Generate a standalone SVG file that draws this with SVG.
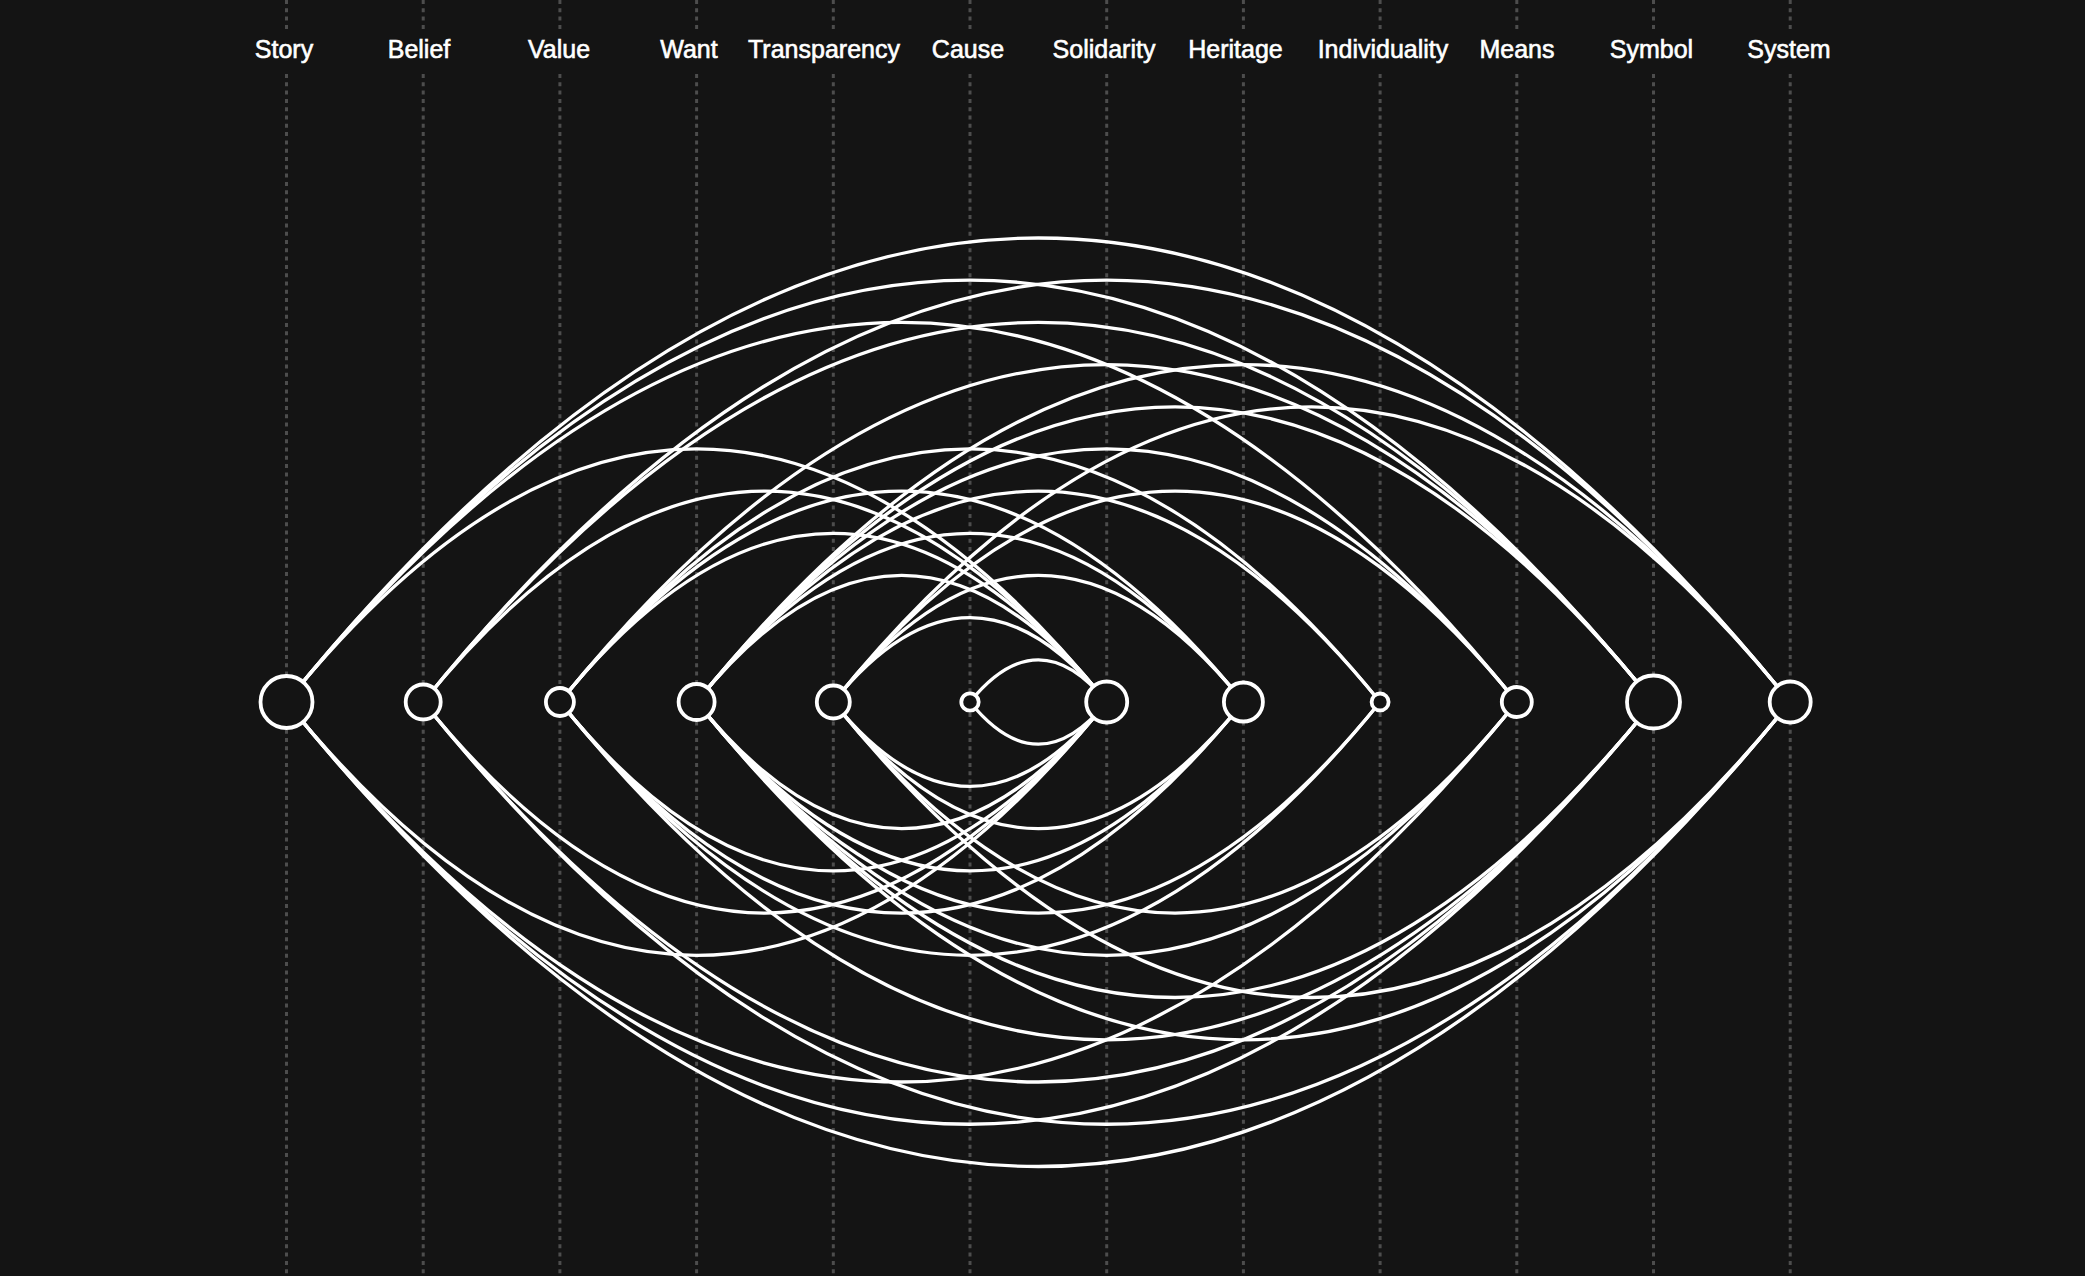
<svg xmlns="http://www.w3.org/2000/svg" width="2085" height="1276" viewBox="0 0 2085 1276">
<style>
.bg{fill:#141414}
.guide{stroke:#4d4d4d;stroke-width:3;stroke-dasharray:4 4.3;fill:none}
.arc{fill:none;stroke:#ffffff;stroke-width:3.3}
.node{fill:#141414;stroke:#ffffff;stroke-width:3.8}
.lbl{font-family:"Liberation Sans",Arial,sans-serif;font-size:25px;fill:#ffffff;stroke:#ffffff;stroke-width:0.6;text-anchor:middle}
</style>
<rect class="bg" x="0" y="0" width="2085" height="1276"/>
<g id="guides">
<path class="guide" d="M286.5 0V32M286.5 74V1276M423.2 0V32M423.2 74V1276M559.9 0V32M559.9 74V1276M696.6 0V32M696.6 74V1276M833.3 0V32M833.3 74V1276M970 0V32M970 74V1276M1106.7 0V32M1106.7 74V1276M1243.4 0V32M1243.4 74V1276M1380.1 0V32M1380.1 74V1276M1516.8 0V32M1516.8 74V1276M1653.5 0V32M1653.5 74V1276M1790.2 0V32M1790.2 74V1276"/>
</g>
<g id="connectors">
<path class="arc" d="M286.5 702Q1038.35 -226 1790.2 702"/>
<path class="arc" d="M286.5 702Q1038.35 1631 1790.2 702"/>
<path class="arc" d="M286.5 702Q970 -141.6 1653.5 702"/>
<path class="arc" d="M286.5 702Q970 1546.5 1653.5 702"/>
<path class="arc" d="M286.5 702Q901.65 -57.2 1516.8 702"/>
<path class="arc" d="M286.5 702Q901.65 1462 1516.8 702"/>
<path class="arc" d="M286.5 702Q696.6 195.9 1106.7 702"/>
<path class="arc" d="M286.5 702Q696.6 1208.6 1106.7 702"/>
<path class="arc" d="M423.2 702Q1106.7 -141.6 1790.2 702"/>
<path class="arc" d="M423.2 702Q1106.7 1546.5 1790.2 702"/>
<path class="arc" d="M423.2 702Q1038.35 -57.2 1653.5 702"/>
<path class="arc" d="M423.2 702Q1038.35 1462 1653.5 702"/>
<path class="arc" d="M423.2 702Q764.95 280.3 1106.7 702"/>
<path class="arc" d="M423.2 702Q764.95 1124.1 1106.7 702"/>
<path class="arc" d="M559.9 702Q1106.7 27.1 1653.5 702"/>
<path class="arc" d="M559.9 702Q1106.7 1377.6 1653.5 702"/>
<path class="arc" d="M559.9 702Q970 195.9 1380.1 702"/>
<path class="arc" d="M559.9 702Q970 1208.6 1380.1 702"/>
<path class="arc" d="M559.9 702Q901.65 280.3 1243.4 702"/>
<path class="arc" d="M559.9 702Q901.65 1124.1 1243.4 702"/>
<path class="arc" d="M559.9 702Q833.3 364.6 1106.7 702"/>
<path class="arc" d="M559.9 702Q833.3 1039.7 1106.7 702"/>
<path class="arc" d="M696.6 702Q1243.4 27.1 1790.2 702"/>
<path class="arc" d="M696.6 702Q1243.4 1377.6 1790.2 702"/>
<path class="arc" d="M696.6 702Q1175.05 111.6 1653.5 702"/>
<path class="arc" d="M696.6 702Q1175.05 1293 1653.5 702"/>
<path class="arc" d="M696.6 702Q1106.7 195.9 1516.8 702"/>
<path class="arc" d="M696.6 702Q1106.7 1208.6 1516.8 702"/>
<path class="arc" d="M696.6 702Q1038.35 280.3 1380.1 702"/>
<path class="arc" d="M696.6 702Q1038.35 1124.1 1380.1 702"/>
<path class="arc" d="M696.6 702Q970 364.6 1243.4 702"/>
<path class="arc" d="M696.6 702Q970 1039.7 1243.4 702"/>
<path class="arc" d="M696.6 702Q901.65 448.9 1106.7 702"/>
<path class="arc" d="M696.6 702Q901.65 955.3 1106.7 702"/>
<path class="arc" d="M833.3 702Q1311.75 111.6 1790.2 702"/>
<path class="arc" d="M833.3 702Q1311.75 1293 1790.2 702"/>
<path class="arc" d="M833.3 702Q1175.05 280.3 1516.8 702"/>
<path class="arc" d="M833.3 702Q1175.05 1124.1 1516.8 702"/>
<path class="arc" d="M833.3 702Q1038.35 448.9 1243.4 702"/>
<path class="arc" d="M833.3 702Q1038.35 955.3 1243.4 702"/>
<path class="arc" d="M833.3 702Q970 533.2 1106.7 702"/>
<path class="arc" d="M833.3 702Q970 870.8 1106.7 702"/>
<path class="arc" d="M970 702Q1038.35 617.6 1106.7 702"/>
<path class="arc" d="M970 702Q1038.35 786.4 1106.7 702"/>
</g>
<g id="node-story"><text class="lbl" x="284" y="58">Story</text><circle class="node" cx="286.5" cy="702" r="26"/></g>
<g id="node-belief"><text class="lbl" x="419" y="58">Belief</text><circle class="node" cx="423.2" cy="702" r="17.5"/></g>
<g id="node-value"><text class="lbl" x="559" y="58">Value</text><circle class="node" cx="559.9" cy="702" r="14"/></g>
<g id="node-want"><text class="lbl" x="689" y="58">Want</text><circle class="node" cx="696.6" cy="702" r="18"/></g>
<g id="node-transparency"><text class="lbl" x="824" y="58">Transparency</text><circle class="node" cx="833.3" cy="702" r="16.5"/></g>
<g id="node-cause"><text class="lbl" x="968" y="58">Cause</text><circle class="node" cx="970" cy="702" r="8.7"/></g>
<g id="node-solidarity"><text class="lbl" x="1104" y="58">Solidarity</text><circle class="node" cx="1106.7" cy="702" r="20.5"/></g>
<g id="node-heritage"><text class="lbl" x="1235.5" y="58">Heritage</text><circle class="node" cx="1243.4" cy="702" r="19.5"/></g>
<g id="node-individuality"><text class="lbl" x="1383" y="58">Individuality</text><circle class="node" cx="1380.1" cy="702" r="8.5"/></g>
<g id="node-means"><text class="lbl" x="1517" y="58">Means</text><circle class="node" cx="1516.8" cy="702" r="15"/></g>
<g id="node-symbol"><text class="lbl" x="1651.5" y="58">Symbol</text><circle class="node" cx="1653.5" cy="702" r="26.5"/></g>
<g id="node-system"><text class="lbl" x="1789" y="58">System</text><circle class="node" cx="1790.2" cy="702" r="20.5"/></g>
</svg>
